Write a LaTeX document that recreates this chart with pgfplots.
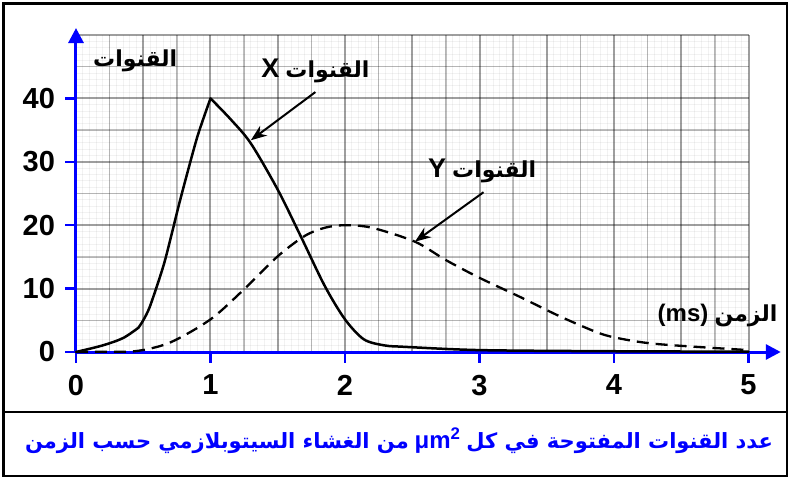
\documentclass[border=0pt]{standalone}
\usepackage{pgfplots}
\pgfplotsset{compat=1.18}
\usepackage{fontspec}
\usetikzlibrary{arrows.meta,calc}
\setmainfont{Liberation Sans}[BoldFont={Liberation Sans Bold}]
\newfontfamily\ar[Script=Arabic]{DejaVu Sans}
\newfontfamily\lat{Liberation Sans Bold}
\TeXXeTstate=1
\newcommand\fs[1]{\fontsize{#1}{#1}\selectfont}

\begin{document}
\begin{tikzpicture}[font=\bfseries]
% graph paper
\begin{axis}[
  name=grid,
  scale only axis, width=672.5pt, height=317pt,
  xmin=0, xmax=5, ymin=0, ymax=50,
  axis line style={draw=none},
  xtick={0,0.5,...,5}, ytick={0,10,...,50},
  minor x tick num=9, minor y tick num=9,
  extra x ticks={0.25,0.75,...,4.75}, extra y ticks={5,15,...,45},
  extra tick style={grid=major, major grid style={draw=black, draw opacity=0.25, line width=1.5pt}},
  xticklabels={}, yticklabels={}, extra x tick labels={}, extra y tick labels={},
  major tick length=0pt, minor tick length=0pt,
  grid=both,
  major grid style={draw=black, draw opacity=0.38, line width=2pt},
  minor grid style={draw=black, draw opacity=0.05, line width=0.8pt},
]
\end{axis}
% data
\begin{axis}[
  scale only axis, width=672.5pt, height=317pt,
  xmin=0, xmax=5, ymin=0, ymax=50,
  clip=false,
  axis line style={draw=none},
  xtick={0,...,5}, ytick={0,10,...,40},
  tick pos=left, tick align=outside,
  major tick length=10.5pt,
  tick style={draw=blue, line width=2.5pt},
  /pgf/number format/assume math mode=true,
  ticklabel style={font=\lat\fs{29}},
  xticklabel style={yshift=-9pt},
  yticklabel style={xshift=-7pt},
]
\draw[blue, line width=3pt, -{Triangle[length=15pt,width=15pt]}] (axis cs:0,0) -- (axis cs:5.24,0);
\draw[blue, line width=3pt, -{Triangle[length=15pt,width=15pt]}] (axis cs:0,0) -- (axis cs:0,51.1);

% X channels
\addplot[black, line width=2.5pt, line cap=round, smooth] coordinates {
(0,0) (0.2,1.05) (0.35,2.2) (0.465,3.84) };
\addplot[black, line width=2.5pt, line cap=round, smooth, tension=0.4] coordinates {
(0.465,3.84) (0.5,5) (0.55,7.2) (0.657,14.1) (0.776,24.1) (0.9,33.8) (1,40) };
\addplot[black, line width=2.5pt, line cap=round, smooth, tension=0.5] coordinates {
(1,40) (1.15,36.7) (1.3,32.9) (1.5,25.6) (1.67,18.3) (1.85,10.4) (2.0,5.15)
(2.14,2.0) (2.29,1.05) (2.42,0.84) (3.0,0.3) (4,0.12) (5,0.05) };

% Y channels
\addplot[black, line width=2.3pt, dash pattern=on 12pt off 7pt, smooth, tension=0.5] coordinates {
(0,0) (0.2,0.05) (0.45,0.15) (0.7,1.5) (1.0,5.15) (1.25,9.9) (1.5,15.1) (1.7,18.3)
(1.85,19.6) (2.0,20.0) (2.2,19.6) (2.52,17.4) (2.75,14.5) (3.0,11.7) (3.3,8.7)
(3.6,5.6) (3.9,2.9) (4.1,1.9) (4.3,1.3) (4.62,0.8) (5,0.3) };

\draw[line width=2pt, -{Stealth[length=16pt,width=12pt]}] (axis cs:1.78,41.0) -- (axis cs:1.30,33.4);
\draw[line width=2pt, -{Stealth[length=16pt,width=12pt]}] (axis cs:3.03,25.2) -- (axis cs:2.52,17.4);

\node[font=\fs{22}] at (axis cs:0.44,45.9) {\ar\bfseries\beginR القنوات\endR};
\node[font=\fs{22}] at (axis cs:1.78,44.3) {{\lat\fs{27}X} {\ar\bfseries\beginR القنوات\endR}};
\node[font=\fs{22}] at (axis cs:3.02,28.5) {{\lat\fs{27}Y} {\ar\bfseries\beginR القنوات\endR}};
\node[font=\fs{22}] at (axis cs:4.77,5.8) {{\lat\fs{24}(ms)} {\ar\bfseries\beginR الزمن\endR}};
\end{axis}
% frame
\draw[line width=2.5pt] ($(grid.south west)+(-72.5pt,-124pt)$) rectangle ($(grid.south west)+(711pt,348.5pt)$);
\draw[line width=2.5pt] ($(grid.south west)+(-72.5pt,-60pt)$) -- ($(grid.south west)+(711pt,-60pt)$);
\node[text=blue, font=\fs{21}] at ($(grid.south west)+(323pt,-89pt)$)
  {{\ar\bfseries\beginR من الغشاء السيتوبلازمي حسب الزمن\endR} {\lat\fs{24}μm\textsuperscript{2}} {\ar\bfseries\beginR عدد القنوات المفتوحة في كل\endR}};
\path ($(grid.south west)+(-76pt,-127pt)$) rectangle ($(grid.south west)+(714pt,352pt)$);
\end{tikzpicture}
\end{document}
